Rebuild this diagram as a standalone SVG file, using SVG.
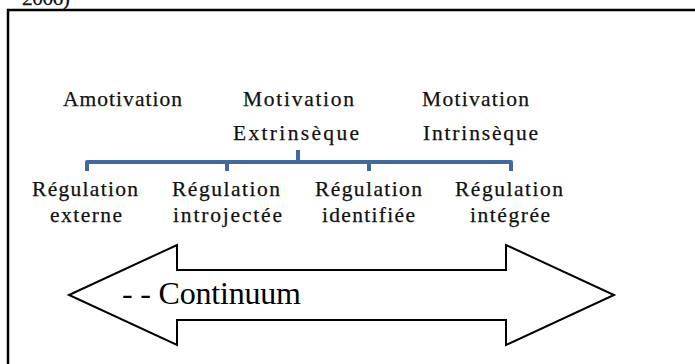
<svg xmlns="http://www.w3.org/2000/svg" width="695" height="364" viewBox="0 0 695 364">
<style>
  .t { font-family: "Liberation Serif", "Times New Roman", serif; font-size: 21.5px; fill: #111; stroke: #111; stroke-width: 0.25; }
  .big { font-family: "Liberation Serif", "Times New Roman", serif; font-size: 32px; fill: #000; }
  .frame { fill: none; stroke: #000; stroke-width: 2.5; }
  .bracket { fill: none; stroke: #41699e; stroke-width: 4; stroke-linejoin: round; stroke-linecap: butt; }
  .arrow { fill: #fff; stroke: #000; stroke-width: 2; stroke-linejoin: miter; }
</style>
<rect width="695" height="364" fill="#fff"/>
<text class="t" x="22" y="5" textLength="48" lengthAdjust="spacing">2006)</text>
<rect class="frame" x="8" y="10" width="720" height="400"/>

<g id="amotivation"><text class="t" x="63" y="106" textLength="119" lengthAdjust="spacing">Amotivation</text></g>
<g id="motivation-extrinseque">
  <text class="t" x="243" y="106" textLength="111" lengthAdjust="spacing">Motivation</text>
  <text class="t" x="233" y="140" textLength="126" lengthAdjust="spacing">Extrinsèque</text>
</g>
<g id="motivation-intrinseque">
  <text class="t" x="422" y="106" textLength="107" lengthAdjust="spacing">Motivation</text>
  <text class="t" x="423" y="140" textLength="115" lengthAdjust="spacing">Intrinsèque</text>
</g>

<g id="connectors">
  <path class="bracket" d="M87,171 V162 H511 V171 M227,162 V171 M369,162 V171 M298,162 V150"/>
</g>

<g id="regulation-externe">
  <text class="t" x="32" y="196" textLength="106" lengthAdjust="spacing">Régulation</text>
  <text class="t" x="50" y="222" textLength="72" lengthAdjust="spacing">externe</text>
</g>
<g id="regulation-introjectee">
  <text class="t" x="172" y="196" textLength="108" lengthAdjust="spacing">Régulation</text>
  <text class="t" x="173" y="222" textLength="109" lengthAdjust="spacing">introjectée</text>
</g>
<g id="regulation-identifiee">
  <text class="t" x="315" y="196" textLength="107" lengthAdjust="spacing">Régulation</text>
  <text class="t" x="322" y="222" textLength="93" lengthAdjust="spacing">identifiée</text>
</g>
<g id="regulation-integree">
  <text class="t" x="455" y="196" textLength="108" lengthAdjust="spacing">Régulation</text>
  <text class="t" x="470" y="222" textLength="80" lengthAdjust="spacing">intégrée</text>
</g>

<g id="continuum">
  <polygon class="arrow" points="69,295 177,245 177,270 506,270 506,245 614,295 506,345 506,320 177,320 177,345"/>
  <text class="big" x="122" y="304" textLength="179" lengthAdjust="spacing">- - Continuum</text>
</g>
</svg>
